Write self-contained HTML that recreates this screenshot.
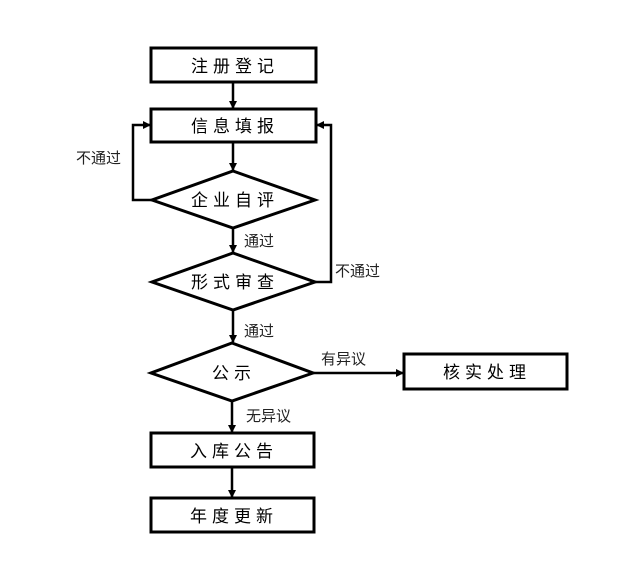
<!DOCTYPE html>
<html><head><meta charset="utf-8"><style>
html,body{margin:0;padding:0;background:#fff;}
svg text{font-family:"Liberation Sans","Noto Sans CJK SC",sans-serif;fill:#000;}
</style></head><body>
<svg width="626" height="583" viewBox="0 0 626 583" xmlns="http://www.w3.org/2000/svg">
<defs><marker id="a" markerWidth="8" markerHeight="8" refX="7" refY="4" orient="auto" markerUnits="userSpaceOnUse"><path d="M0,0 L8,4 L0,8 Z" fill="#000"/></marker></defs>
<g fill="#fff" stroke="#000" stroke-width="3">
<rect x="151" y="48" width="165" height="34"/>
<rect x="151" y="109" width="165" height="33"/>
<polygon points="233,171 315,200 233,228 152,200"/>
<polygon points="233,253 315,282 233,310 152,282"/>
<polygon points="232,343 313,373 232,401 151,373"/>
<rect x="404" y="354" width="163" height="35"/>
<rect x="151" y="433" width="163" height="34"/>
<rect x="151" y="498" width="163" height="34"/>
</g>
<g stroke="#000" stroke-width="2.5" fill="none">
<line x1="233" y1="82" x2="233" y2="108" marker-end="url(#a)"/>
<line x1="233" y1="142" x2="233" y2="170" marker-end="url(#a)"/>
<line x1="233" y1="228" x2="233" y2="252" marker-end="url(#a)"/>
<line x1="233" y1="310" x2="233" y2="342" marker-end="url(#a)"/>
<line x1="232" y1="401" x2="232" y2="432" marker-end="url(#a)"/>
<line x1="232" y1="467" x2="232" y2="497" marker-end="url(#a)"/>
<polyline points="152,200 133,200 133,125 150,125" marker-end="url(#a)"/>
<polyline points="315,282 331,282 331,125 317,125" marker-end="url(#a)"/>
<line x1="313" y1="373" x2="403" y2="373" marker-end="url(#a)"/>
</g>
<g font-size="17" text-anchor="middle" letter-spacing="5">
<text x="235" y="72">注册登记</text>
<text x="235" y="132">信息填报</text>
<text x="235" y="206">企业自评</text>
<text x="235" y="288">形式审查</text>
<text x="234" y="379">公示</text>
<text x="487" y="378">核实处理</text>
<text x="234" y="457">入库公告</text>
<text x="234" y="522">年度更新</text>
</g>
<g font-size="15" style="fill:#222">
<text x="76" y="163" style="fill:#222">不通过</text>
<text x="244" y="246" style="fill:#222">通过</text>
<text x="335" y="276" style="fill:#222">不通过</text>
<text x="244" y="336" style="fill:#222">通过</text>
<text x="321" y="364" style="fill:#222">有异议</text>
<text x="246" y="421" style="fill:#222">无异议</text>
</g>
</svg>
</body></html>
